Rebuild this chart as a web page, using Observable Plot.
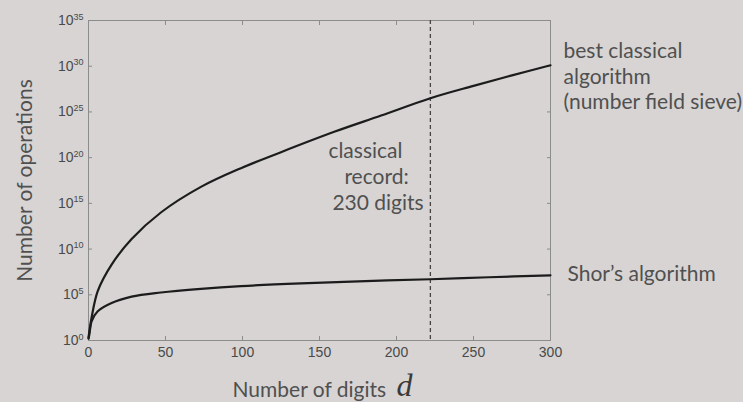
<!DOCTYPE html>
<html><head><meta charset="utf-8">
<script src="https://cdn.jsdelivr.net/npm/d3@7"></script>
<script src="https://cdn.jsdelivr.net/npm/@observablehq/plot@0.6"></script>
<style>
html,body{margin:0;padding:0;background:#d7d4d3;}
</style></head><body><div id="chart"></div>
<script>
// Data (exponents of 10)
const classicalDigits = [0, 1, 2, 6, 15, 28, 47, 73, 99, 125, 160, 190, 222, 250, 275, 300];
const classicalExp    = [0.3, 1.5, 2.5, 5.4, 8.3, 11.1, 14.0, 16.8, 18.85, 20.6, 22.85, 24.6, 26.5, 27.85, 29.0, 30.1];
const shorDigits = [0, 0.5, 1, 2, 6, 15, 28, 47, 73, 99, 138, 180, 222, 260, 300];
const shorExp    = [0.2, 0.6, 1.2, 2.1, 3.2, 4.1, 4.8, 5.25, 5.65, 5.95, 6.25, 6.5, 6.7, 6.92, 7.13];
const recordDigits = [222];
const xTicks = [0, 50, 100, 150, 200, 250, 300];
const yTickExps = [0, 5, 10, 15, 20, 25, 30, 35];
const classicalLabel = "best classical\nalgorithm\n(number field sieve)";
const shorLabel = "Shor\u2019s algorithm";
const recordLines = ["classical", "record:", "230 digits"];
const xLabel = "Number of digits";
const xLabelVar = "d";
const yLabel = "Number of operations";

const classical = classicalDigits.map((d, i) => ({d, v: 10 ** classicalExp[i]}));
const shor = shorDigits.map((d, i) => ({d, v: 10 ** shorExp[i]}));
const yTicks = yTickExps.map(e => 10 ** e);

const grey = "#8c8c8c", txt = "#505050", font = "Lato";
const tickFont = "Liberation Sans, Arial, sans-serif";

const plot = Plot.plot({
  width: 743, height: 402,
  marginLeft: 88, marginRight: 193, marginTop: 20, marginBottom: 62,
  style: {background: "#d7d4d3"},
  x: {domain: [0, 300]},
  y: {type: "log", domain: [1, 1e35]},
  marks: [
    Plot.frame({stroke: grey}),
    Plot.axisX(xTicks, {anchor: "bottom", tickSize: 0, tickPadding: 7, fontSize: 14, fontFamily: tickFont, fill: "#4a4a4a", label: null}),
    Plot.axisX(xTicks, {anchor: "bottom", tickSize: -4, stroke: grey, fill: "none", label: null}),
    Plot.axisX(xTicks, {anchor: "top", tickSize: -4, stroke: grey, fill: "none", label: null}),
    Plot.axisY(yTicks, {anchor: "left", tickSize: 0, tickPadding: 5, fontSize: 14, fontFamily: tickFont, fill: "#4a4a4a", label: null,
      tickFormat: d => "10^" + Math.round(Math.log10(d))}),
    Plot.axisY(yTicks, {anchor: "left", tickSize: -4, stroke: grey, fill: "none", label: null}),
    Plot.axisY(yTicks, {anchor: "right", tickSize: -4, stroke: grey, fill: "none", label: null}),
    Plot.ruleX(recordDigits, {stroke: "#444", strokeWidth: 1.3, strokeDasharray: "4,3"}),
    Plot.line(classical, {x: "d", y: "v", curve: "catmull-rom", stroke: "#1c1c1c", strokeWidth: 2.2}),
    Plot.line(shor, {x: "d", y: "v", curve: "catmull-rom", stroke: "#1c1c1c", strokeWidth: 2.2}),
    Plot.text([classical.at(-1)], {x: "d", y: "v", text: () => classicalLabel, dx: 13, dy: 43.7, lineAnchor: "bottom", lineHeight: 1.214, textAnchor: "start", fontSize: 21, fontFamily: font, fill: txt}),
    Plot.text([shor.at(-1)], {x: "d", y: "v", text: () => shorLabel, dx: 17, dy: 5.7, lineAnchor: "bottom", textAnchor: "start", fontSize: 21, fontFamily: font, fill: txt}),
    Plot.text(recordDigits, {x: d => d, frameAnchor: "top", text: () => recordLines[0], dx: -102, dy: 137.3, lineAnchor: "bottom", textAnchor: "start", fontSize: 21, fontFamily: font, fill: txt}),
    Plot.text(recordDigits, {x: d => d, frameAnchor: "top", text: () => recordLines[1], dx: -86, dy: 163.3, lineAnchor: "bottom", textAnchor: "start", fontSize: 21, fontFamily: font, fill: txt}),
    Plot.text(recordDigits, {x: d => d, frameAnchor: "top", text: () => recordLines[2], dx: -98, dy: 189.3, lineAnchor: "bottom", textAnchor: "start", fontSize: 21, fontFamily: font, fill: txt}),
    Plot.text([xLabel], {frameAnchor: "bottom-left", dx: 144, dy: 56, lineAnchor: "bottom", textAnchor: "start", fontSize: 21, fontFamily: font, fill: txt}),
    Plot.text([xLabelVar], {frameAnchor: "bottom-left", dx: 308, dy: 55, lineAnchor: "bottom", textAnchor: "start", fontSize: 32, fontStyle: "italic", fontFamily: "Liberation Serif, serif", fill: "#3a3a3a"}),
    Plot.text([yLabel], {frameAnchor: "left", dx: -63, rotate: -90, lineAnchor: "middle", textAnchor: "middle", fontSize: 21, fontFamily: font, fill: txt})
  ]
});

// render exponents as superscripts
plot.querySelectorAll('g[aria-label="y-axis tick label"] text').forEach(t => {
  const parts = t.textContent.split("^");
  if (parts.length !== 2) return;
  t.textContent = parts[0];
  const ts = document.createElementNS("http://www.w3.org/2000/svg", "tspan");
  ts.setAttribute("dy", "-0.6em");
  ts.setAttribute("font-size", "9");
  ts.textContent = parts[1];
  t.appendChild(ts);
});
document.getElementById("chart").appendChild(plot);
</script></body></html>
